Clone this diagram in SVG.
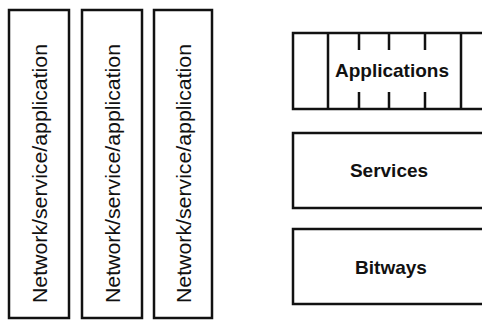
<svg xmlns="http://www.w3.org/2000/svg" width="482" height="320" viewBox="0 0 482 320">
<style>
.box{fill:#fff;stroke:#111;stroke-width:2.5}
.ln{stroke:#111;stroke-width:2.5;fill:none}
.vt{font-family:"Liberation Sans",Arial,sans-serif;font-size:20.5px;fill:#111}
.bt{font-family:"Liberation Sans",Arial,sans-serif;font-size:19px;font-weight:bold;fill:#111;text-anchor:middle}
</style>
<rect width="482" height="320" fill="#fff"/>
<g id="col1">
<rect class="box" x="9" y="10" width="60" height="308"/>
<text class="vt" transform="translate(47,303) rotate(-90)" textLength="259" lengthAdjust="spacingAndGlyphs">Network/service/application</text>
</g>
<g id="col2">
<rect class="box" x="82" y="10" width="60" height="308"/>
<text class="vt" transform="translate(120,303) rotate(-90)" textLength="259" lengthAdjust="spacingAndGlyphs">Network/service/application</text>
</g>
<g id="col3">
<rect class="box" x="154" y="10" width="58" height="308"/>
<text class="vt" transform="translate(191,303) rotate(-90)" textLength="259" lengthAdjust="spacingAndGlyphs">Network/service/application</text>
</g>
<g id="applications">
<rect class="box" x="293" y="33" width="200" height="76"/>
<path class="ln" d="M328,33V109M461,33V109M359,33V50M389,33V50M425,33V50M359,92V109M389,92V109M425,92V109"/>
<text class="bt" x="392" y="77">Applications</text>
</g>
<g id="services">
<rect class="box" x="293" y="133" width="200" height="75"/>
<text class="bt" x="389" y="177">Services</text>
</g>
<g id="bitways">
<rect class="box" x="293" y="229" width="200" height="75"/>
<text class="bt" x="391" y="274">Bitways</text>
</g>
<g id="connectors"></g>
</svg>
